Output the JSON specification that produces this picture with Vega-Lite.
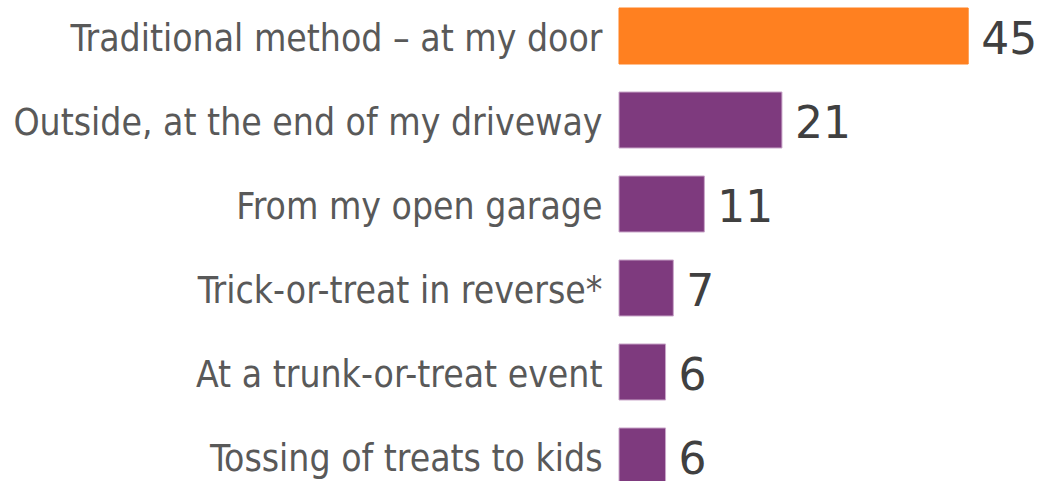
{
  "$schema": "https://vega.github.io/schema/vega-lite/v6.json",
  "width": 419,
  "height": 481,
  "autosize": "none",
  "padding": {"left": 619, "top": 0, "right": 0, "bottom": 0},
  "background": "white",
  "config": {"view": {"stroke": null}},
  "data": {"values": [
    {"method": "Traditional method – at my door", "pct": 45, "highlight": "yes"},
    {"method": "Outside, at the end of my driveway", "pct": 21, "highlight": "no"},
    {"method": "From my open garage", "pct": 11, "highlight": "no"},
    {"method": "Trick-or-treat in reverse*", "pct": 7, "highlight": "no"},
    {"method": "At a trunk-or-treat event", "pct": 6, "highlight": "no"},
    {"method": "Tossing of treats to kids", "pct": 6, "highlight": "no"}
  ]},
  "encoding": {
    "y": {"field": "method", "type": "nominal", "sort": null,
      "scale": {"range": [-6, 498], "paddingInner": 0.3333, "paddingOuter": 0.1667},
      "axis": {"title": null, "domain": false, "ticks": false, "labelPadding": 17, "labelOffset": 4,
        "labelFont": "DejaVu Sans Condensed", "labelFontSize": 37, "labelColor": "#595959", "labelLimit": 700}},
    "x": {"field": "pct", "type": "quantitative", "scale": {"domain": [0, 54]}, "axis": null}
  },
  "layer": [
    {"mark": {"type": "bar", "strokeWidth": 1},
     "encoding": {
       "color": {"field": "highlight", "type": "nominal", "scale": {"domain": ["yes", "no"], "range": ["#FF8020", "#7E3A7E"]}, "legend": null},
       "stroke": {"field": "highlight", "type": "nominal", "scale": {"domain": ["yes", "no"], "range": ["#FF8020", "#C9A6C9"]}, "legend": null}
     }},
    {"mark": {"type": "text", "align": "left", "dx": 13, "dy": 5, "font": "DejaVu Sans", "fontSize": 44, "color": "#404040"},
     "encoding": {"text": {"field": "pct", "type": "quantitative"}}}
  ]
}
